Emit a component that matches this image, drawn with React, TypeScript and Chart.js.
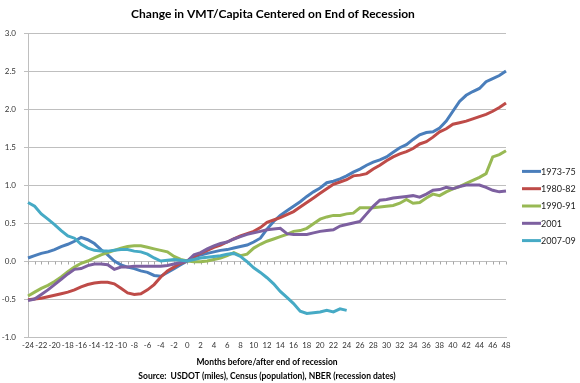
import React, { useEffect, useRef } from 'react';
import { Chart, registerables } from 'chart.js';

Chart.register(...registerables);

const months = [
  '-24', '-23', '-22', '-21', '-20', '-19', '-18', '-17', '-16', '-15',
  '-14', '-13', '-12', '-11', '-10', '-9', '-8', '-7', '-6', '-5',
  '-4', '-3', '-2', '-1', '0', '1', '2', '3', '4', '5',
  '6', '7', '8', '9', '10', '11', '12', '13', '14', '15',
  '16', '17', '18', '19', '20', '21', '22', '23', '24', '25',
  '26', '27', '28', '29', '30', '31', '32', '33', '34', '35',
  '36', '37', '38', '39', '40', '41', '42', '43', '44', '45',
  '46', '47', '48',
];

const s1973 = [
  0.04, 0.07, 0.10, 0.12, 0.15, 0.19, 0.22, 0.26, 0.31, 0.28,
  0.23, 0.15, 0.08, 0.0, -0.05, -0.08, -0.10, -0.13, -0.15, -0.19,
  -0.20, -0.15, -0.10, -0.05, 0.0, 0.05, 0.08, 0.10, 0.12, 0.14,
  0.15, 0.17, 0.19, 0.21, 0.25, 0.30, 0.42, 0.52, 0.60, 0.66,
  0.72, 0.78, 0.85, 0.91, 0.96, 1.03, 1.05, 1.08, 1.12, 1.17,
  1.21, 1.26, 1.30, 1.33, 1.37, 1.43, 1.49, 1.53, 1.60, 1.66,
  1.69, 1.70, 1.75, 1.84, 1.97, 2.10, 2.18, 2.23, 2.27, 2.36,
  2.40, 2.44, 2.50,
];

const s1980 = [
  -0.51, -0.50, -0.49, -0.47, -0.45, -0.43, -0.41, -0.38, -0.34, -0.31,
  -0.29, -0.28, -0.28, -0.30, -0.36, -0.42, -0.44, -0.43, -0.38, -0.31,
  -0.21, -0.13, -0.08, -0.03, 0.00, 0.06, 0.10, 0.14, 0.18, 0.21,
  0.25, 0.29, 0.33, 0.36, 0.39, 0.44, 0.51, 0.54, 0.57, 0.61,
  0.65, 0.71, 0.77, 0.83, 0.89, 0.95, 1.01, 1.04, 1.07, 1.12,
  1.13, 1.15, 1.21, 1.26, 1.32, 1.37, 1.41, 1.44, 1.48, 1.54,
  1.57, 1.63, 1.70, 1.74, 1.80, 1.82, 1.84, 1.87, 1.90, 1.93,
  1.97, 2.02, 2.08,
];

const s1990 = [
  -0.46, -0.41, -0.36, -0.32, -0.27, -0.21, -0.14, -0.08, -0.03, 0.00,
  0.04, 0.08, 0.11, 0.14, 0.17, 0.19, 0.20, 0.20, 0.18, 0.16,
  0.14, 0.12, 0.06, 0.02, 0.00, -0.01, -0.01, 0.00, 0.02, 0.04,
  0.07, 0.11, 0.07, 0.09, 0.17, 0.22, 0.26, 0.29, 0.32, 0.35,
  0.39, 0.40, 0.43, 0.49, 0.55, 0.58, 0.60, 0.60, 0.62, 0.63,
  0.70, 0.70, 0.70, 0.71, 0.72, 0.73, 0.76, 0.81, 0.76, 0.77,
  0.83, 0.88, 0.86, 0.91, 0.95, 0.98, 1.02, 1.06, 1.10, 1.15,
  1.37, 1.40, 1.45,
];

const s2001 = [
  -0.52, -0.50, -0.44, -0.38, -0.31, -0.24, -0.17, -0.11, -0.10, -0.06,
  -0.04, -0.04, -0.05, -0.11, -0.08, -0.08, -0.07, -0.07, -0.07, -0.07,
  -0.07, -0.06, -0.04, -0.02, 0.00, 0.08, 0.11, 0.16, 0.20, 0.23,
  0.25, 0.29, 0.32, 0.35, 0.37, 0.39, 0.41, 0.42, 0.43, 0.36,
  0.35, 0.35, 0.35, 0.37, 0.39, 0.40, 0.41, 0.46, 0.48, 0.50,
  0.52, 0.62, 0.72, 0.80, 0.81, 0.83, 0.84, 0.85, 0.86, 0.84,
  0.88, 0.93, 0.94, 0.97, 0.95, 0.98, 1.00, 1.00, 1.00, 0.97,
  0.93, 0.91, 0.92,
];

const s2007 = [
  0.77, 0.72, 0.62, 0.55, 0.48, 0.40, 0.33, 0.30, 0.22, 0.17,
  0.14, 0.13, 0.13, 0.14, 0.15, 0.15, 0.13, 0.12, 0.09, 0.04,
  0.00, 0.01, 0.02, 0.01, 0.00, 0.02, 0.04, 0.05, 0.06, 0.07,
  0.09, 0.10, 0.06, -0.01, -0.09, -0.15, -0.22, -0.30, -0.40, -0.48,
  -0.56, -0.66, -0.69, -0.68, -0.67, -0.65, -0.67, -0.63, -0.65,
];

const seriesLabels = ['1973-75', '1980-82', '1990-91', '2001', '2007-09'];
const seriesData = [s1973, s1980, s1990, s2001, s2007];
const seriesColors = ['#4A7EBB', '#BE4B48', '#98B954', '#7D60A0', '#46AAC5'];

const titleText = 'Change in VMT/Capita Centered on End of Recession';
const xTitleLines = [
  'Months before/after end of recession',
  'Source:  USDOT (miles), Census (population), NBER (recession dates)',
];

const FONT = 'Lato, "Open Sans", sans-serif';
const GRID = '#bfbfbf';

const decor = {
  id: 'decor',
  beforeDatasetsDraw(chart: any) {
    const { ctx, scales } = chart;
    const y0 = Math.round(scales.y.getPixelForValue(0)) + 0.5;
    ctx.save();
    ctx.strokeStyle = '#a6a6a6';
    ctx.lineWidth = 1;
    for (let i = 0; i < months.length; i++) {
      const x = Math.round(scales.x.getPixelForValue(i)) + 0.5;
      ctx.beginPath();
      ctx.moveTo(x, y0);
      ctx.lineTo(x, y0 + 3);
      ctx.stroke();
    }
    ctx.restore();
  },
  afterDraw(chart: any) {
    const { ctx, chartArea } = chart;
    ctx.save();
    ctx.fillStyle = '#000';
    ctx.font = `bold 12px ${FONT}`;
    ctx.textAlign = 'center';
    ctx.textBaseline = 'middle';
    ctx.fillText(titleText, (chartArea.left + chartArea.right) / 2 + 6, 14);
    const midY = (chartArea.top + chartArea.bottom) / 2 + 21;
    const step = 17.3;
    const x0 = chartArea.right + 16;
    ctx.font = `9px ${FONT}`;
    ctx.textAlign = 'left';
    seriesLabels.forEach((lab, i) => {
      const y = midY + (i - 2) * step;
      ctx.strokeStyle = seriesColors[i];
      ctx.lineWidth = 3;
      ctx.beginPath();
      ctx.moveTo(x0, y);
      ctx.lineTo(x0 + 19, y);
      ctx.stroke();
      ctx.fillStyle = '#222';
      ctx.fillText(lab, x0 + 19, y + 0.5);
    });
    ctx.restore();
  },
};

export default function App() {
  const ref = useRef<HTMLCanvasElement | null>(null);

  useEffect(() => {
    if (!ref.current) return;
    const chart = new Chart(ref.current, {
      type: 'line',
      data: {
        labels: months,
        datasets: seriesData.map((d, i) => ({
          label: seriesLabels[i],
          data: d,
          borderColor: seriesColors[i],
          backgroundColor: seriesColors[i],
          borderWidth: 3,
          pointRadius: 0,
          tension: 0,
          fill: false,
          order: 4 - i,
        })),
      },
      options: {
        animation: false,
        responsive: false,
        maintainAspectRatio: false,
        layout: { padding: { left: 2, right: 74, top: 33, bottom: 0 } },
        plugins: {
          legend: { display: false },
          title: { display: false },
          tooltip: { enabled: false },
        },
        scales: {
          x: {
            type: 'category',
            offset: false,
            grid: { display: false, drawTicks: false },
            border: { display: true, color: GRID, width: 1 },
            ticks: {
              autoSkip: false,
              maxRotation: 0,
              minRotation: 0,
              padding: 4,
              color: '#333',
              font: { family: FONT, size: 7.8 },
              callback: (_v: any, idx: number) => (idx % 2 === 0 ? months[idx] : ''),
            },
            title: {
              display: true,
              text: xTitleLines,
              color: '#000',
              font: { family: FONT, size: 8.5, weight: 'bold', lineHeight: 1.65 },
              padding: { top: 0, bottom: 0 },
            },
            afterFit: (s: any) => {
              s.height = 46;
            },
          },
          y: {
            min: -1,
            max: 3,
            ticks: {
              stepSize: 0.5,
              padding: 8,
              color: '#333',
              font: { family: FONT, size: 8 },
              callback: (v: any) => Number(v).toFixed(1),
            },
            grid: { color: GRID, lineWidth: 1, tickLength: 4, drawTicks: true },
            border: { display: true, color: GRID, width: 1 },
            afterFit: (s: any) => {
              s.width = 26;
            },
          },
        },
      },
      plugins: [decor],
    });
    return () => chart.destroy();
  }, []);

  return (
    <div style={{ position: 'fixed', left: 0, top: 0, width: 580, height: 383, background: '#fff' }}>
      <canvas ref={ref} width={580} height={383} style={{ width: 580, height: 383 }} />
    </div>
  );
}
